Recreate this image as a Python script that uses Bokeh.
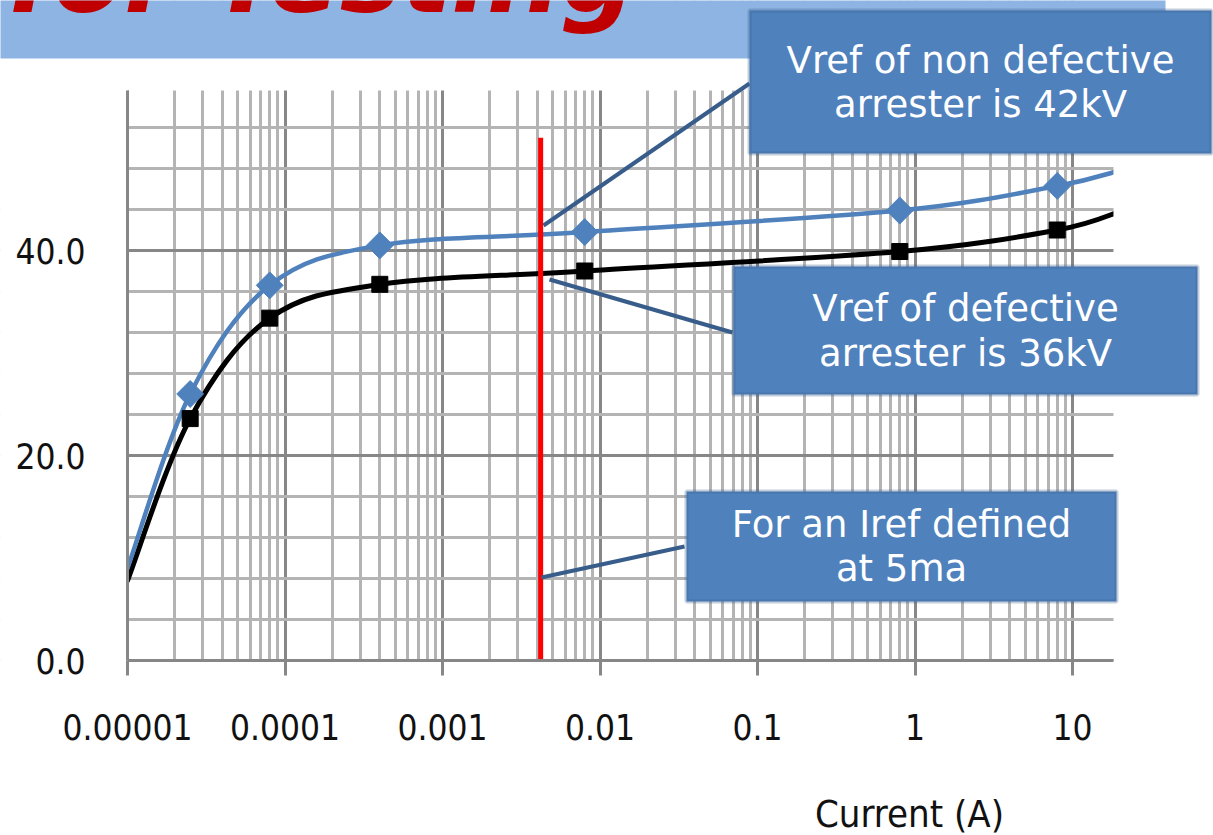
import numpy as np
from bokeh.plotting import figure
from bokeh.models import (Range1d, FixedTicker, CustomJSTickFormatter, PrintfTickFormatter,
                          Label, BoxAnnotation, Arrow)
from bokeh.embed import file_html
from bokeh.resources import INLINE

# ---------------- data ----------------
current_a = [1e-5, 2.5e-5, 8e-5, 4e-4, 8e-3, 0.8, 8.0, 20.0]
v_non_defective = [9.0, 26.0, 36.6, 40.5, 41.8, 43.9, 46.3, 47.8]
v_defective = [7.8, 23.6, 33.4, 36.7, 38.0, 39.9, 42.0, 43.8]
marker_idx = [1, 2, 3, 4, 5, 6]          # points that carry markers
iref_a = 0.0042                           # red reference-current line
iref_line_top = 51.0
x_ticks = [1e-5, 1e-4, 1e-3, 1e-2, 1e-1, 1, 10]
x_tick_labels = ["0.00001", "0.0001", "0.001", "0.01", "0.1", "1", "10"]
y_ticks = [0, 20, 40]
x_title = "Current (A)"
banner_text = "for Testing"
callout_good = ["Vref of non defective", "arrester is 42kV"]
callout_bad = ["Vref of defective", "arrester is 36kV"]
callout_iref = ["For an Iref defined", "at 5ma"]

# ---------------- layout / styling ----------------
W, H = 1213, 835
X_LO, X_HI = 1e-5, 18.2          # visible plot area (axes extent)
Y_LO, Y_HI = 0.0, 55.6
PX_DEC, X0_PX = 157.5, 127       # pixels per decade, pixel of x = 1e-5
PX_UNIT, Y0_PX = 10.25, 660      # pixels per kV, pixel of y = 0
BLUE = "#4F81BD"
BOX_LINE = "#385D8A"
GRID_MAJ = "#878787"
GRID_MIN = "#B4B4B4"
TICK_FONT = "DejaVu Sans Condensed, Liberation Sans Narrow, Liberation Sans"
BOX_FONT = "DejaVu Sans"
BASELINE_FIX = 0.37              # em shift observed for "alphabetic" labels


def sy(Y):  # picture y (from top) -> screen y (from bottom)
    return H - Y


def text_y(baseline_px, size_px):
    return sy(baseline_px) + BASELINE_FIX * size_px


xr = Range1d(10 ** (np.log10(X_LO) - X0_PX / PX_DEC), 10 ** (np.log10(X_LO) + (W - X0_PX) / PX_DEC))
yr = Range1d(-(H - Y0_PX) / PX_UNIT, Y0_PX / PX_UNIT)

p = figure(width=W, height=H, x_axis_type="log", x_range=xr, y_range=yr,
           output_backend="svg", toolbar_location=None, min_border=0)
p.min_border_left = 0
p.min_border_right = 0
p.min_border_top = 0
p.min_border_bottom = 0
p.outline_line_color = None
p.background_fill_color = "white"
p.border_fill_color = "white"

x_minor = [m * 10.0 ** e for e in range(-5, 2) for m in range(2, 10) if m * 10.0 ** e <= X_HI]
y_minor = [v for v in range(4, 56, 4) if v % 20 != 0]

p.xaxis.ticker = FixedTicker(ticks=x_ticks, minor_ticks=x_minor)
p.yaxis.ticker = FixedTicker(ticks=y_ticks, minor_ticks=y_minor)
p.xaxis.formatter = CustomJSTickFormatter(args=dict(labels=x_tick_labels),
                                          code="return labels[Math.round(Math.log10(tick)) + 5];")
p.yaxis.formatter = PrintfTickFormatter(format="%.1f")
p.xaxis.fixed_location = Y_LO
p.yaxis.fixed_location = X_LO
p.xaxis.bounds = (X_LO, X_HI)
p.yaxis.bounds = (Y_LO, Y_HI)

for g in (p.xgrid, p.ygrid):
    g.grid_line_color = GRID_MAJ
    g.grid_line_width = 3
    g.minor_grid_line_color = GRID_MIN
    g.minor_grid_line_width = 3

for ax in (p.xaxis, p.yaxis):
    ax.axis_line_color = GRID_MAJ
    ax.axis_line_width = 3
    ax.minor_tick_line_color = None
    ax.major_label_text_font = TICK_FONT
    ax.major_label_text_font_size = "35px"
    ax.major_label_text_color = "#111111"

p.xaxis.major_tick_line_color = GRID_MAJ
p.xaxis.major_tick_line_width = 3
p.xaxis.major_tick_out = 15
p.xaxis.major_tick_in = 0
p.xaxis.major_label_standoff = 38
p.yaxis.major_tick_line_color = None
p.yaxis.major_tick_out = 0
p.yaxis.major_tick_in = 0
p.yaxis.major_label_standoff = 38


def smooth(xs, ys):
    """Bezier control points (Catmull-Rom, Excel-like smoothing) in log-x space."""
    u = np.log10(np.asarray(xs, dtype=float))
    v = np.asarray(ys, dtype=float)
    n = len(u)
    up = np.concatenate([[u[0]], u, [u[-1]]])
    vp = np.concatenate([[v[0]], v, [v[-1]]])
    d = {k: [] for k in ("x0", "y0", "x1", "y1", "cx0", "cy0", "cx1", "cy1")}
    for i in range(n - 1):
        j = i + 1
        c1u = up[j] + (up[j + 1] - up[j - 1]) / 6.0
        c1v = vp[j] + (vp[j + 1] - vp[j - 1]) / 6.0
        c2u = up[j + 1] - (up[j + 2] - up[j]) / 6.0
        c2v = vp[j + 1] - (vp[j + 2] - vp[j]) / 6.0
        d["x0"].append(10 ** up[j]); d["y0"].append(vp[j])
        d["x1"].append(10 ** up[j + 1]); d["y1"].append(vp[j + 1])
        d["cx0"].append(10 ** c1u); d["cy0"].append(c1v)
        d["cx1"].append(10 ** c2u); d["cy1"].append(c2v)
    return d


p.bezier(**smooth(current_a, v_defective), line_color="black", line_width=5, line_cap="round")
p.bezier(**smooth(current_a, v_non_defective), line_color=BLUE, line_width=4.5, line_cap="round")

mx = [current_a[i] for i in marker_idx]
p.scatter(mx, [v_defective[i] for i in marker_idx], marker="square", size=16,
          fill_color="black", line_color="black")
p.scatter(mx, [v_non_defective[i] for i in marker_idx], marker="square", angle=np.pi / 4,
          size=19, fill_color=BLUE, line_color=BLUE)

# red reference current line
p.segment(x0=[iref_a], y0=[Y_LO], x1=[iref_a], y1=[iref_line_top], line_color="#FF0000", line_width=5)

# ---------------- white masks outside the plot area (hide grid overhang) ----------------
mask_style = dict(fill_color="white", fill_alpha=1, line_color=None, level="glyph")
scr = dict(left_units="screen", right_units="screen", top_units="screen", bottom_units="screen")
p.add_layout(BoxAnnotation(left=-100, left_units="screen", right=X_LO,
                           bottom=-100, bottom_units="screen", top=H + 100, top_units="screen",
                           **mask_style))
p.add_layout(BoxAnnotation(left=X_HI, right=W + 100, right_units="screen",
                           bottom=-100, bottom_units="screen", top=H + 100, top_units="screen",
                           **mask_style))
p.add_layout(BoxAnnotation(left=-100, left_units="screen", right=W + 100, right_units="screen",
                           bottom=Y_HI, top=H + 100, top_units="screen", **mask_style))
p.add_layout(BoxAnnotation(left=-100, left_units="screen", right=W + 100, right_units="screen",
                           bottom=-100, bottom_units="screen", top=Y_LO, **mask_style))
# thin left-edge strip (covers stray grid stubs at the canvas edge)
p.add_layout(BoxAnnotation(left=-10, right=7, top=sy(62), bottom=-10, **scr,
                           fill_color="white", fill_alpha=1, line_color=None, level="overlay"))

# ---------------- banner ----------------
p.add_layout(BoxAnnotation(left=-10, right=1165, top=H + 10, bottom=sy(58), **scr,
                           fill_color="#8EB4E3", fill_alpha=1, line_color=None, level="annotation"))
p.add_layout(Label(x=7, y=text_y(14, 104), x_units="screen", y_units="screen", text=banner_text,
                   text_align="left", text_baseline="alphabetic",
                   text_font="DejaVu Sans", text_font_style="bold italic",
                   text_font_size="104px", text_color="#C00000", level="annotation"))

# ---------------- leader lines ----------------
for (a, b) in [((543, 225), (749, 83)), ((549, 279), (732, 332)), ((541, 577), (684, 546))]:
    p.add_layout(Arrow(end=None, x_start=a[0], y_start=sy(a[1]),
                       x_end=b[0], y_end=sy(b[1]),
                       start_units="screen", end_units="screen",
                       line_color=BOX_LINE, line_width=4, level="annotation"))

# ---------------- callout boxes ----------------
boxes = [
    ((749, 10, 1211, 153), 980, (74, 118), callout_good),
    ((733, 266, 1197, 394), 965, (322, 367), callout_bad),
    ((686, 491, 1116, 601), 901, (538, 582), callout_iref),
]
for (l, t, r, b), cx, baselines, lines in boxes:
    p.add_layout(BoxAnnotation(left=l, right=r, top=sy(t), bottom=sy(b), **scr,
                               fill_color=BLUE, fill_alpha=1, line_color=BOX_LINE,
                               line_width=4, level="overlay"))
    for txt, bl in zip(lines, baselines):
        p.add_layout(Label(x=cx, y=text_y(bl, 37), x_units="screen", y_units="screen", text=txt,
                           text_align="center", text_baseline="alphabetic",
                           text_font=BOX_FONT, text_font_size="37px", text_color="white",
                           level="overlay"))

# ---------------- x axis title ----------------
p.add_layout(Label(x=909, y=text_y(828, 38), x_units="screen", y_units="screen", text=x_title,
                   text_align="center", text_baseline="alphabetic",
                   text_font=TICK_FONT, text_font_size="38px", text_color="#111111",
                   level="annotation"))

open("out.html", "w").write(file_html(p, INLINE))
